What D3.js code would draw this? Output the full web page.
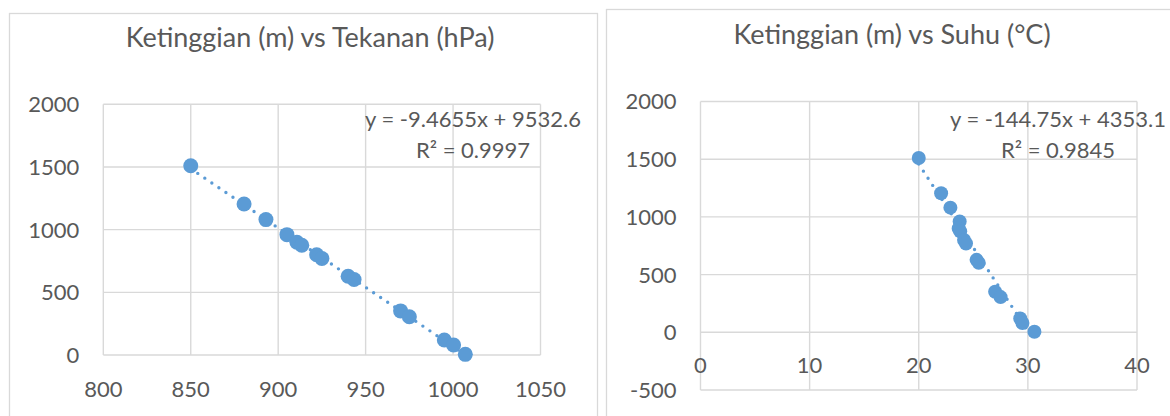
<!DOCTYPE html>
<html>
<head>
<script src="https://cdn.jsdelivr.net/npm/d3@7/dist/d3.min.js"></script>
<style>
    body{
        margin:0;
        background:white;
        font-family:Lato, "Open Sans", sans-serif;
    }
</style>
</head>
<body>
<div id="chart"></div>
<script>

// heights of the measuring points (m), shared by both charts
var heights = [1510, 1205, 1080, 960, 900, 875, 800, 770, 628, 602, 352, 305, 120, 80, 5]
var pressure = [850, 880.5, 893, 905, 910.7, 913.5, 922, 925, 940, 943.4, 970, 975, 995, 1000.3, 1007]
var temperature = [20.0, 22.05, 22.9, 23.75, 23.66, 23.8, 24.15, 24.33, 25.3, 25.5, 27.0, 27.5, 29.3, 29.5, 30.6]

// trendline from excel
var pressureSlope = -9.4655, pressureIntercept = 9532.6
var tempSlope = -144.75, tempIntercept = 4353.1

var pressureTicks = [800, 850, 900, 950, 1000, 1050]
var pressureHeightTicks = [0, 500, 1000, 1500, 2000]
var tempTicks = [0, 10, 20, 30, 40]
var tempHeightTicks = [-500, 0, 500, 1000, 1500, 2000]

var blue = "#5B9BD5"
var gridColor = "#D9D9D9"
var textColor = "#595959"

var svg = d3.select("#chart").append("svg")
    .attr("width", 1170)
    .attr("height", 416)

drawChart({
    box: [9, 13, 597, 440],
    title: "Ketinggian (m) vs Tekanan (hPa)",
    titleX: 310, titleY: 47,
    xs: pressure, ys: heights,
    xDomain: [800, 1050], xRange: [103.3, 540.5],
    yDomain: [0, 2000], yRange: [355, 104.3],
    xTicks: pressureTicks, yTicks: pressureHeightTicks,
    xLabelY: 396.5,
    slope: pressureSlope, intercept: pressureIntercept,
    eq: ["y = -9.4655x + 9532.6", "R² = 0.9997"], eqX: 473, eqY: 127,
    r: 7.5
})

drawChart({
    box: [606, 9, 1190, 440],
    title: "Ketinggian (m) vs Suhu (°C)",
    titleX: 892, titleY: 44,
    xs: temperature, ys: heights,
    xDomain: [0, 40], xRange: [700.5, 1137],
    yDomain: [-500, 2000], yRange: [390, 101.5],
    xTicks: tempTicks, yTicks: tempHeightTicks,
    xLabelY: 373,
    slope: tempSlope, intercept: tempIntercept,
    eq: ["y = -144.75x + 4353.1", "R² = 0.9845"], eqX: 1058, eqY: 127,
    r: 7
})

function drawChart(c){
    var g = svg.append("g")
    var x = d3.scaleLinear().domain(c.xDomain).range(c.xRange)
    var y = d3.scaleLinear().domain(c.yDomain).range(c.yRange)

    g.append("rect")
        .attr("x", c.box[0] + 0.5).attr("y", c.box[1] + 0.5)
        .attr("width", c.box[2] - c.box[0]).attr("height", c.box[3] - c.box[1])
        .attr("fill", "white").attr("stroke", gridColor).attr("stroke-width", 1.3)

    g.append("text").text(c.title)
        .attr("x", c.titleX).attr("y", c.titleY)
        .attr("text-anchor", "middle")
        .attr("font-size", 27)
        .attr("fill", textColor)

    // grid
    g.selectAll(".vgrid").data(c.xTicks).enter().append("line")
        .attr("x1", d => x(d)).attr("x2", d => x(d))
        .attr("y1", c.yRange[0]).attr("y2", c.yRange[1])
        .attr("stroke", gridColor).attr("stroke-width", 1.4)
    g.selectAll(".hgrid").data(c.yTicks).enter().append("line")
        .attr("x1", c.xRange[0]).attr("x2", c.xRange[1])
        .attr("y1", d => y(d)).attr("y2", d => y(d))
        .attr("stroke", gridColor).attr("stroke-width", 1.4)

    // tick labels
    g.selectAll(".xl").data(c.xTicks).enter().append("text")
        .text(d => d)
        .attr("x", d => x(d)).attr("y", c.xLabelY)
        .attr("text-anchor", "middle")
        .attr("font-size", 22).attr("fill", textColor)
    g.selectAll(".yl").data(c.yTicks).enter().append("text")
        .text(d => d)
        .attr("x", c.xRange[0] - 24).attr("y", d => y(d)).attr("dy", "0.36em")
        .attr("text-anchor", "end")
        .attr("font-size", 22).attr("fill", textColor)

    // trendline, dotted
    var ext = d3.extent(c.xs)
    g.append("path")
        .attr("d", d3.line()(ext.map(v => [x(v), y(c.slope * v + c.intercept)])))
        .attr("fill", "none")
        .attr("stroke", blue)
        .attr("stroke-width", 3.4)
        .attr("stroke-linecap", "round")
        .attr("stroke-dasharray", "0 8.5")

    var pts = c.xs.map((v, i) => [v, c.ys[i]])
    g.selectAll(".pt").data(pts).enter().append("circle")
        .attr("cx", d => x(d[0])).attr("cy", d => y(d[1]))
        .attr("r", c.r)
        .attr("fill", blue)

    g.selectAll(".eq").data(c.eq).enter().append("text")
        .text(d => d)
        .attr("x", c.eqX).attr("y", (d, i) => c.eqY + i * 31)
        .attr("text-anchor", "middle")
        .attr("font-size", 22).attr("fill", textColor)
}

</script>
</body>
</html>
